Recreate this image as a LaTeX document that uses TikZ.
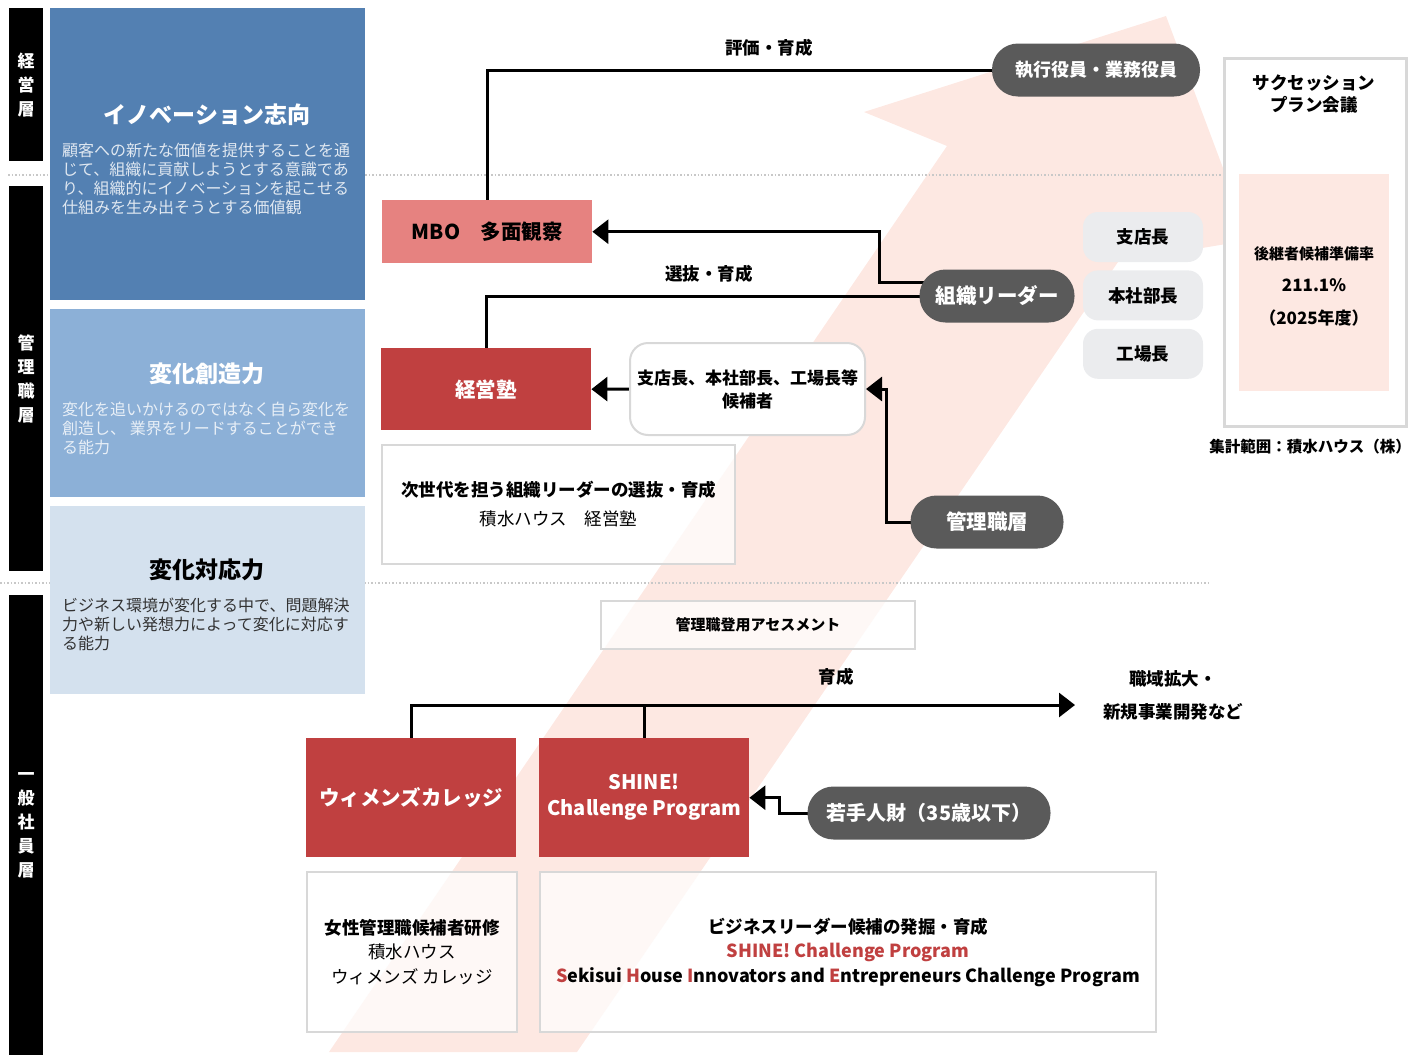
\documentclass[tikz,border=0pt]{standalone}
\usepackage{fontspec}
\setmainfont{Noto Sans CJK JP}
\usetikzlibrary{arrows.meta,positioning}
\definecolor{arrowpink}{RGB}{253,232,226}
\definecolor{blueA}{RGB}{83,128,178}
\definecolor{blueB}{RGB}{140,176,215}
\definecolor{blueC}{RGB}{212,225,238}
\definecolor{shred}{RGB}{192,64,64}
\definecolor{salmon}{RGB}{230,130,128}
\definecolor{pillgray}{RGB}{90,90,90}
\definecolor{chipgray}{RGB}{235,236,238}
\definecolor{framegray}{RGB}{216,216,216}
\definecolor{dotgray}{RGB}{200,200,200}
\pgfdeclarelayer{arrowlayer}
\pgfdeclarelayer{wirelayer}
\pgfsetlayers{arrowlayer,wirelayer,main}
\tikzset{
  sidebar/.style={fill=black, anchor=north west, minimum width=34pt, inner sep=0pt, align=center, text=white, font=\bfseries\fontsize{17}{24}\selectfont},
  value/.style={anchor=north west, minimum width=315pt, inner sep=0pt},
  valuetitle/.style={font=\bfseries\fontsize{23}{28}\selectfont},
  valuebody/.style={anchor=north west, inner sep=0pt, align=left, font=\fontsize{16}{19}\selectfont},
  redbox/.style={fill=shred, text=white, anchor=north west, minimum width=210pt, inner sep=0pt, align=center, font=\bfseries\fontsize{20.5}{26}\selectfont},
  pill/.style={fill=pillgray, text=white, rounded corners=26pt, minimum height=53pt, inner sep=0pt, font=\bfseries\fontsize{20.5}{24}\selectfont},
  chip/.style={fill=chipgray, rounded corners=15pt, minimum width=120pt, minimum height=50pt, font=\bfseries\fontsize{17.5}{20}\selectfont},
  frame/.style={draw=framegray, line width=2pt, fill=white, fill opacity=0.7, text opacity=1, anchor=north west, inner sep=0pt, align=center},
  tag/.style={font=\bfseries\fontsize{17.5}{20}\selectfont},
  link/.style={line width=3pt},
  arrow/.style={link, -{Triangle[length=16pt,width=24pt]}},
  divider/.style={draw=dotgray, dotted, line width=1.5pt},
}
\begin{document}
\begin{tikzpicture}[x=1pt, y=-1pt, node distance=9pt]
\useasboundingbox (0,0) rectangle (1425,1055);
\begin{pgfonlayer}{arrowlayer}
\fill[arrowpink] (329,1052) -- (947,146) -- (864,112) -- (1166,16) -- (1250,240) -- (1118,262) -- (577,1052) -- cycle;
\draw[divider] (8,175) -- (1222,175);
\draw[divider] (0,583) -- (1210,583);
\end{pgfonlayer}

\node[sidebar, minimum height=153pt] (lyrexec) at (9,8) {経\\営\\層};
\node[sidebar, minimum height=385pt] (lyrmgr) at (9,186) {管\\理\\職\\層};
\node[sidebar, minimum height=460pt] (lyrstaff) at (9,595) {一\\般\\社\\員\\層};

\node[value, fill=blueA, minimum height=292pt] (innov) at (50,8) {};
\node[valuetitle, text=white] (innovtitle) at (207,115) {イノベーション志向};
\node[valuebody, text=white!82!blueA] (innovbody) at (62,143) {顧客への新たな価値を提供することを通\\じて、組織に貢献しようとする意識であ\\り、組織的にイノベーションを起こせる\\仕組みを生み出そうとする価値観};
\node[value, fill=blueB, minimum height=188pt] (create) at (50,309) {};
\node[valuetitle, text=white] (createtitle) at (207,374) {変化創造力};
\node[valuebody, text=white!80!blueB] (createbody) at (62,402) {変化を追いかけるのではなく自ら変化を\\創造し、 業界をリードすることができ\\る能力};
\node[value, fill=blueC, minimum height=188pt] (adapt) at (50,506) {};
\node[valuetitle, text=black] (adapttitle) at (207,570) {変化対応力};
\node[valuebody, text=black!80] (adaptbody) at (62,598) {ビジネス環境が変化する中で、問題解決\\力や新しい発想力によって変化に対応す\\る能力};

\node[pill, minimum width=208pt, font=\bfseries\fontsize{18}{22}\selectfont] (exec) at (1096,70) {執行役員・業務役員};
\node[pill, minimum width=155pt] (leader) at (997,296) {組織リーダー};
\node[pill, minimum width=153pt] (mgr) at (987,522) {管理職層};
\node[pill, minimum width=243pt, font=\bfseries\fontsize{20}{24}\selectfont] (young) at (929,813) {若手人財（35歳以下）};

\node[chip] (branch) at (1143,237) {支店長};
\node[chip, below=of branch, yshift=1pt] (hq) {本社部長};
\node[chip, below=of hq, yshift=1pt] (plant) {工場長};

\node[redbox, fill=salmon, text=black, minimum height=63pt] (mbo) at (382,200) {MBO　多面観察};
\node[redbox, minimum height=82pt] (juku) at (381,348) {経営塾};
\node[redbox, minimum height=119pt] (women) at (306,738) {ウィメンズカレッジ};
\node[redbox, minimum height=119pt, font=\bfseries\fontsize{20}{26}\selectfont] (shine) at (539,738) {SHINE!\\Challenge Program};

\node[draw=framegray, line width=2pt, fill=white, rounded corners=18pt, anchor=north west, minimum width=235pt, minimum height=92pt, inner sep=0pt, align=center, font=\bfseries\fontsize{17}{23}\selectfont] (cand) at (629,342) {支店長、本社部長、工場長等\\候補者};
\node[frame, minimum width=353pt, minimum height=119pt, font=\fontsize{17.5}{29}\selectfont] (nextgen) at (381,444) {{\bfseries 次世代を担う組織リーダーの選抜・育成}\\積水ハウス　経営塾};
\node[frame, minimum width=314pt, minimum height=48pt, font=\bfseries\fontsize{15}{18}\selectfont] (assess) at (600,600) {管理職登用アセスメント};
\node[frame, minimum width=210pt, minimum height=160pt, font=\fontsize{17.5}{24.5}\selectfont] (womentrain) at (306,871) {{\bfseries 女性管理職候補者研修}\\積水ハウス\\ウィメンズ カレッジ};
\node[frame, minimum width=616pt, minimum height=160pt, font=\bfseries\fontsize{18}{24.5}\selectfont] (bizlead) at (539,871) {{\fontsize{17.5}{24.5}\selectfont ビジネスリーダー候補の発掘・育成}\\\textcolor{shred}{SHINE! Challenge Program}\\\textcolor{shred}{S}ekisui \textcolor{shred}{H}ouse \textcolor{shred}{I}nnovators and \textcolor{shred}{E}ntrepreneurs Challenge Program};

\node[frame, fill opacity=1, line width=3pt, minimum width=182pt, minimum height=368pt] (plan) at (1223,57) {};
\node[tag, align=center, font=\bfseries\fontsize{17.5}{22}\selectfont] (plantitle) at (1314,94) {サクセッション\\プラン会議};
\node[fill=arrowpink, anchor=north west, minimum width=150pt, minimum height=217pt, inner sep=0pt] (rate) at (1239,174) {};
\node[align=center, font=\bfseries\fontsize{17}{32.5}\selectfont] (ratetext) at (1314,286) {{\fontsize{15}{32.5}\selectfont 後継者候補準備率}\\211.1\%\\（2025年度）};
\node[tag, font=\bfseries\fontsize{15.5}{18}\selectfont] (scope) at (1310,447) {集計範囲：積水ハウス（株）};

\node[tag] (evallbl) at (769,48) {評価・育成};
\node[tag] (selectlbl) at (709,274) {選抜・育成};
\node[tag] (growlbl) at (836,677) {育成};
\node[tag, align=center, font=\bfseries\fontsize{17.5}{33}\selectfont] (expand) at (1173,695) {職域拡大・\\新規事業開発など};
\coordinate (growth) at (1075,705);

\begin{pgfonlayer}{wirelayer}
\draw[link] (exec.center) -| (mbo.north);
\draw[arrow] ([yshift=14pt]leader.center) -- ++(-118,0) |- (mbo.east);
\draw[link] (leader.center) -| (juku.north);
\draw[arrow] (cand.west) -- (juku.east);
\draw[arrow] (mgr.center) -- ++(-101,0) |- (cand.east);
\draw[arrow] (women.north) |- (growth);
\draw[link] (shine.north) -- (shine.north |- growth);
\draw[arrow] (young.center) -- ++(-150,0) |- (shine.east);
\end{pgfonlayer}
\end{tikzpicture}
\end{document}
